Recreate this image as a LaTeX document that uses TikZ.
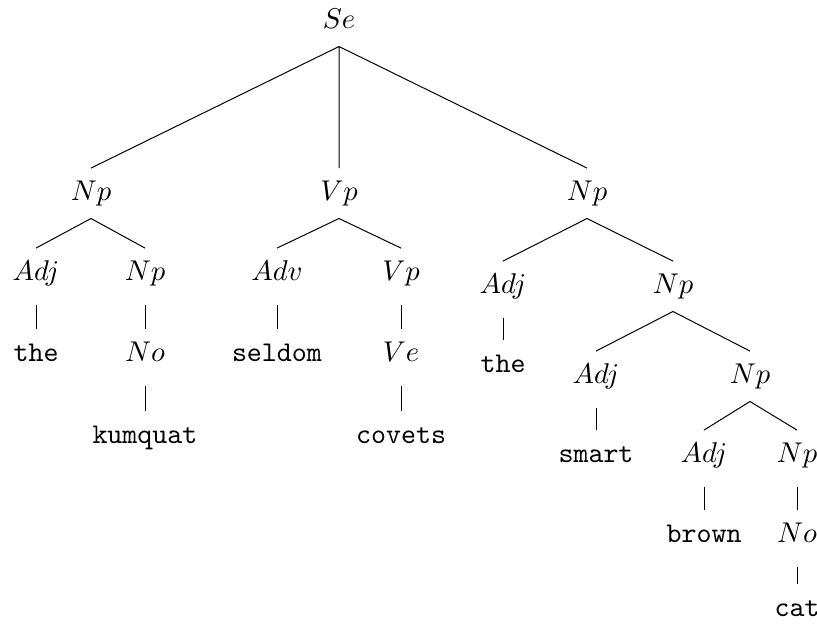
\documentclass[tikz,border=0pt]{standalone}
\begin{document}
\begin{tikzpicture}[x=0.35pt,y=-0.35pt,line width=0.35pt,
		lbl/.style={anchor=base,inner xsep=2pt,inner ysep=3.8pt,text height=7.2pt,text depth=2.5pt},
		wrd/.style={lbl,font=\ttfamily},
		un/.style={shorten <=2.1pt}]
	\useasboundingbox (0,0) rectangle (817,626);
	% cac nut
	\node[lbl] (se) at (339,28) {$Se$};
	\node[lbl] (np1) at (91,200) {$Np$};
	\node[lbl] (vp1) at (339,200) {$Vp$};
	\node[lbl] (np2) at (587,200) {$Np$};
	\node[lbl] (adj1) at (36,280) {$Adj$};
	\node[lbl] (np3) at (145,280) {$Np$};
	\node[lbl] (adv) at (277,280) {$Adv$};
	\node[lbl] (vp2) at (401,280) {$Vp$};
	\node[lbl] (adj2) at (503,293) {$Adj$};
	\node[lbl] (np4) at (673,293) {$Np$};
	\node[wrd] (the1) at (36,361) {the};
	\node[lbl] (no1) at (145,361) {$No$};
	\node[wrd] (seldom) at (277,361) {seldom};
	\node[lbl] (ve) at (401,361) {$Ve$};
	\node[wrd] (the2) at (503,372) {the};
	\node[lbl] (adj3) at (596,383) {$Adj$};
	\node[lbl] (np5) at (750,383) {$Np$};
	\node[wrd] (kumquat) at (145,443) {kumquat};
	\node[wrd] (covets) at (401,443) {covets};
	\node[wrd] (smart) at (596,462) {smart};
	\node[lbl] (adj4) at (704,462) {$Adj$};
	\node[lbl] (np6) at (797,462) {$Np$};
	\node[wrd] (brown) at (704,542) {brown};
	\node[lbl] (no2) at (797,542) {$No$};
	\node[wrd] (cat) at (797,616) {cat};
	% cac canh
	\draw (se.south)--(np1.north) (se.south)--(vp1.north) (se.south)--(np2.north);
	\draw (np1.south)--(adj1.north) (np1.south)--(np3.north);
	\draw (vp1.south)--(adv.north) (vp1.south)--(vp2.north);
	\draw (np2.south)--(adj2.north) (np2.south)--(np4.north);
	\draw (np4.south)--(adj3.north) (np4.south)--(np5.north);
	\draw (np5.south)--(adj4.north) (np5.south)--(np6.north);
	\draw[un] (adj1.south)--(the1.north);
	\draw[un] (np3.south)--(no1.north);
	\draw[un] (no1.south)--(kumquat.north);
	\draw[un] (adv.south)--(seldom.north);
	\draw[un] (vp2.south)--(ve.north);
	\draw[un] (ve.south)--(covets.north);
	\draw[un] (adj2.south)--(the2.north);
	\draw[un] (adj3.south)--(smart.north);
	\draw[un] (adj4.south)--(brown.north);
	\draw[un] (np6.south)--(no2.north);
	\draw[un] (no2.south)--(cat.north);
\end{tikzpicture}
\end{document}
